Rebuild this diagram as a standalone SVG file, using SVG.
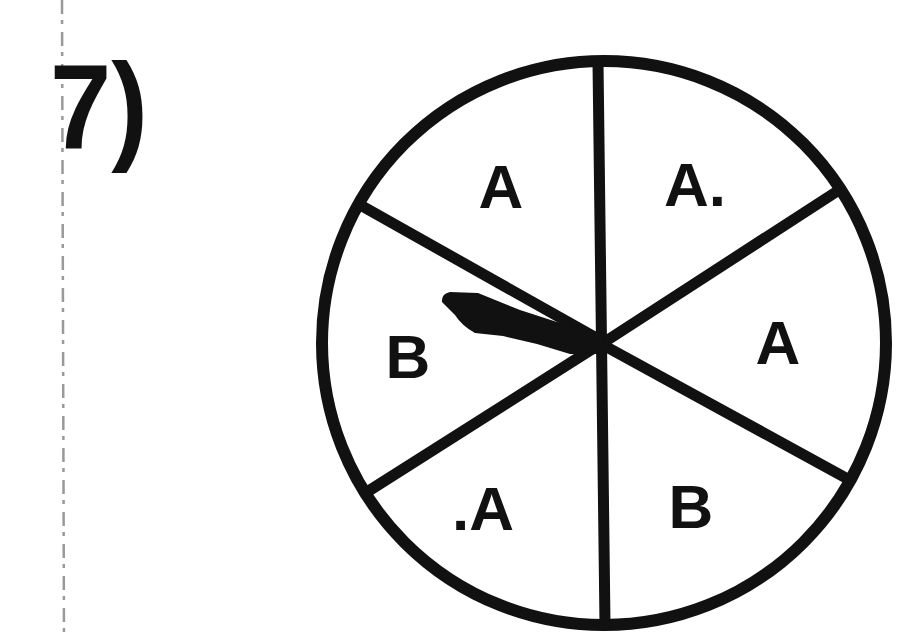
<svg xmlns="http://www.w3.org/2000/svg" width="912" height="640" viewBox="0 0 912 640">
<style>
.lbl{font-family:"Liberation Sans",Arial,sans-serif;font-weight:bold;font-size:62px;fill:#111;text-anchor:middle}
.spoke{stroke:#111;stroke-width:11;stroke-linecap:round;fill:none}
</style>
<rect width="912" height="640" fill="#fff"/>
<line x1="62" y1="0" x2="64" y2="640" stroke="#999" stroke-width="2.5" stroke-dasharray="14 6 4 8"/>
<text x="50" y="148" font-family="Liberation Sans,Arial,sans-serif" font-weight="bold" font-size="120" fill="#111" textLength="98" lengthAdjust="spacingAndGlyphs">7)</text>
<g id="spinner">
<circle cx="604" cy="343" r="282" fill="none" stroke="#111" stroke-width="12"/>
</g>
<g id="connectors">
<line class="spoke" x1="598" y1="62" x2="605" y2="624"/>
<line class="spoke" x1="362" y1="206" x2="600" y2="340"/>
<line class="spoke" x1="603" y1="345" x2="846" y2="478"/>
<line class="spoke" x1="836" y1="192" x2="603" y2="343"/>
<line class="spoke" x1="600" y1="344" x2="367" y2="492"/>
</g>
<g id="pointer">
<path d="M442,302 Q441,294 450,292 L478,293 L520,310 L560,323 L604,334 L602,354 L570,354 L537,344 L503,336 L475,333 Q462,326 455,315 Z" fill="#111"/>
</g>
<g id="labels">
<text class="lbl" x="501" y="208">A</text>
<text class="lbl" x="695" y="206">A.</text>
<text class="lbl" x="408" y="378">B</text>
<text class="lbl" x="778" y="364">A</text>
<text class="lbl" x="483" y="530">.A</text>
<text class="lbl" x="691" y="528">B</text>
</g>
</svg>
